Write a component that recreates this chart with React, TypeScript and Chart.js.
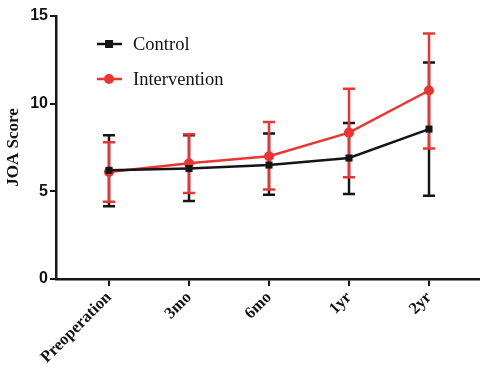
import React, { useEffect, useRef } from "react";
import { Chart, registerables } from "chart.js";

Chart.register(...registerables);

const categories = ["Preoperation", "3mo", "6mo", "1yr", "2yr"];
const controlMean = [6.2, 6.3, 6.5, 6.9, 8.55];
const controlUpper = [8.2, 8.2, 8.3, 8.9, 12.35];
const controlLower = [4.15, 4.45, 4.8, 4.85, 4.75];
const interventionMean = [6.1, 6.6, 7.0, 8.35, 10.75];
const interventionUpper = [7.8, 8.25, 8.95, 10.85, 14.0];
const interventionLower = [4.4, 4.9, 5.1, 5.8, 7.45];
const yTicks = [0, 5, 10, 15];

const BLACK = "#151515";
const RED = "#ee3430";

const errorBars = {
  id: "errorBars",
  beforeDatasetsDraw(chart: any) {
    const ctx = chart.ctx;
    const xs = chart.scales.x;
    const ys = chart.scales.y;
    const sets = [
      { lo: controlLower, hi: controlUpper, color: BLACK },
      { lo: interventionLower, hi: interventionUpper, color: RED },
    ];
    ctx.save();
    sets.forEach((s) => {
      ctx.strokeStyle = s.color;
      ctx.lineWidth = 2.5;
      s.lo.forEach((lo, i) => {
        const x = xs.getPixelForValue(i);
        const yl = ys.getPixelForValue(lo);
        const yh = ys.getPixelForValue(s.hi[i]);
        ctx.beginPath();
        ctx.moveTo(x, yl);
        ctx.lineTo(x, yh);
        ctx.moveTo(x - 6, yl);
        ctx.lineTo(x + 6, yl);
        ctx.moveTo(x - 6, yh);
        ctx.lineTo(x + 6, yh);
        ctx.stroke();
      });
    });
    ctx.restore();
  },
};

const customLegend = {
  id: "customLegend",
  afterDraw(chart: any) {
    const ctx = chart.ctx;
    ctx.save();
    const items = [
      { label: "Control", color: BLACK, y: 44, shape: "rect" },
      { label: "Intervention", color: RED, y: 79, shape: "circle" },
    ];
    items.forEach((it) => {
      ctx.strokeStyle = it.color;
      ctx.fillStyle = it.color;
      ctx.lineWidth = 2.5;
      ctx.beginPath();
      ctx.moveTo(97, it.y);
      ctx.lineTo(122, it.y);
      ctx.stroke();
      if (it.shape === "rect") {
        ctx.fillRect(105, it.y - 4, 8, 8);
      } else {
        ctx.beginPath();
        ctx.arc(109, it.y, 5, 0, Math.PI * 2);
        ctx.fill();
      }
      ctx.fillStyle = "#111";
      ctx.font = "18.5px 'Liberation Serif'";
      ctx.textBaseline = "middle";
      ctx.textAlign = "left";
      ctx.fillText(it.label, 133, it.y + 1);
    });
    ctx.restore();
  },
};

export default function App() {
  const ref = useRef<HTMLCanvasElement>(null);
  useEffect(() => {
    document.body.style.margin = "0";
    const chart = new Chart(ref.current as HTMLCanvasElement, {
      type: "line",
      data: {
        datasets: [
          {
            label: "Control",
            data: controlMean.map((v, i) => ({ x: i, y: v })),
            borderColor: BLACK,
            backgroundColor: BLACK,
            borderWidth: 2.5,
            pointStyle: "rect",
            pointRadius: 5,
            pointBorderWidth: 0,
          },
          {
            label: "Intervention",
            data: interventionMean.map((v, i) => ({ x: i, y: v })),
            borderColor: RED,
            backgroundColor: RED,
            borderWidth: 2.5,
            pointStyle: "circle",
            pointRadius: 5,
            pointBorderWidth: 0,
          },
        ],
      },
      options: {
        animation: false,
        responsive: false,
        maintainAspectRatio: false,
        layout: { autoPadding: false, padding: { top: 16, right: 0, left: 0, bottom: 0 } },
        plugins: { legend: { display: false }, tooltip: { enabled: false } },
        scales: {
          x: {
            type: "linear",
            min: -0.6625,
            max: 4.6375,
            afterBuildTicks: (s: any) => {
              s.ticks = categories.map((_, i) => ({ value: i }));
            },
            afterFit: (s: any) => {
              s.height = 94;
              s.paddingLeft = 0;
              s.paddingRight = 0;
            },
            ticks: {
              callback: (v: any) => categories[v],
              minRotation: 45,
              maxRotation: 45,
              color: "#111",
              font: { family: "'Liberation Serif'", weight: "bold", size: 16.5 },
              padding: 2,
            },
            grid: {
              drawOnChartArea: false,
              drawTicks: true,
              tickLength: 7,
              color: BLACK,
              lineWidth: 2,
            },
            border: { color: BLACK, width: 2.5 },
          },
          y: {
            min: 0,
            max: 15,
            afterBuildTicks: (s: any) => {
              s.ticks = yTicks.map((v) => ({ value: v }));
            },
            afterFit: (s: any) => {
              s.width = 56;
              s.paddingTop = 0;
              s.paddingBottom = 0;
            },
            ticks: {
              color: "#111",
              font: { family: "'Liberation Sans'", weight: "bold", size: 16 },
              padding: 2,
            },
            grid: {
              drawOnChartArea: false,
              drawTicks: true,
              tickLength: 6,
              color: BLACK,
              lineWidth: 2,
            },
            border: { color: BLACK, width: 2.5 },
            title: {
              display: true,
              text: "JOA Score",
              color: "#111",
              font: { family: "'Liberation Serif'", weight: "bold", size: 17 },
              padding: { top: 3, bottom: 0 },
            },
          },
        },
      },
      plugins: [errorBars, customLegend],
    } as any);
    return () => chart.destroy();
  }, []);
  return <canvas ref={ref} width={480} height={373} style={{ display: "block" }} />;
}
